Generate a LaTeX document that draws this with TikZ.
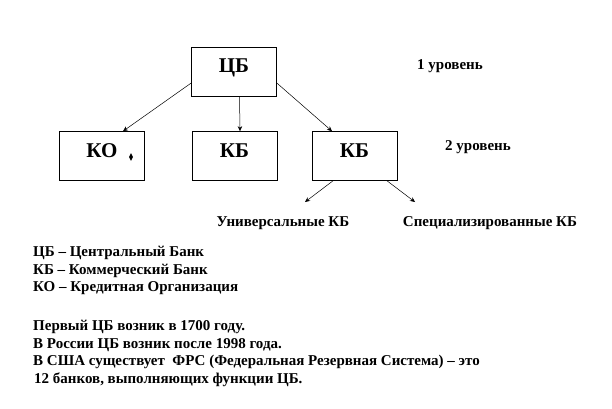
\documentclass[tikz,border=0pt]{standalone}
\usepackage{fontspec}
\setmainfont{Liberation Serif}
\usetikzlibrary{arrows.meta,shapes.geometric,calc}
\begin{document}
\begin{tikzpicture}[x=1pt,y=1pt,
  box/.style={draw=black, line width=0.6pt, fill=white, minimum width=85pt, minimum height=49pt, inner sep=0pt,
    font=\fontsize{21}{24}\selectfont\bfseries, text height=14pt, text depth=12pt},
  lbl/.style={font=\fontsize{15}{18}\selectfont\bfseries, inner sep=0pt},
  txt/.style={font=\fontsize{15}{18}\selectfont\bfseries, inner sep=0pt, anchor=base west},
  arr/.style={-{Stealth[length=5pt,width=4.5pt]}, line width=0.5pt}]
\useasboundingbox (0,0) rectangle (612,408);
% boxes
\node[box] (cb) at (234,336.5) {ЦБ};
\node[box] (ko) at (102,252) {КО\hspace{8pt}};
\node[box] (kb1) at (234.5,252) {КБ};
\node[box] (kb2) at (354.5,252) {КБ};
\node[diamond, fill=black, minimum width=4pt, minimum height=8pt, inner sep=0pt] (dm) at (131,251) {};
% level labels
\node[lbl] (l1) at (450,342) {1 уровень};
\node[lbl] (l2) at (478,261) {2 уровень};
% bottom labels
\node[lbl] (uni) at (283,185) {Универсальные КБ};
\node[lbl] (spec) at (490,185) {Специализированные КБ};
\coordinate (u1) at (305,206);
\coordinate (s1) at (415,206);
% arrows
\draw[arr] ($(cb.west)+(0,-11.5)$) -- ($(ko.north)+(21,0)$);
\draw[arr] ($(cb.south)+(5.5,0)$) -- ($(kb1.north)+(5.5,0)$);
\draw[arr] ($(cb.east)+(0,-11.5)$) -- ($(kb2.north)+(-22.5,0)$);
\draw[arr] ($(kb2.south)+(-21.5,0)$) -- (u1);
\draw[arr] ($(kb2.south)+(32.5,0)$) -- (s1);
% legend
\node[txt] (t1) at (33,151.5) {ЦБ – Центральный Банк};
\node[txt] (t2) at (33,134) {КБ – Коммерческий Банк};
\node[txt] (t3) at (33,116.5) {КО – Кредитная Организация};
\node[txt] (t4) at (33,77.5) {Первый ЦБ возник в 1700 году.};
\node[txt] (t5) at (33,59.5) {В России ЦБ возник после 1998 года.};
\node[txt] (t6) at (33,42.5) {В США существует~ ФРС (Федеральная Резервная Система) – это};
\node[txt] (t7) at (34,24.5) {12 банков, выполняющих функции ЦБ.};
\end{tikzpicture}
\end{document}
